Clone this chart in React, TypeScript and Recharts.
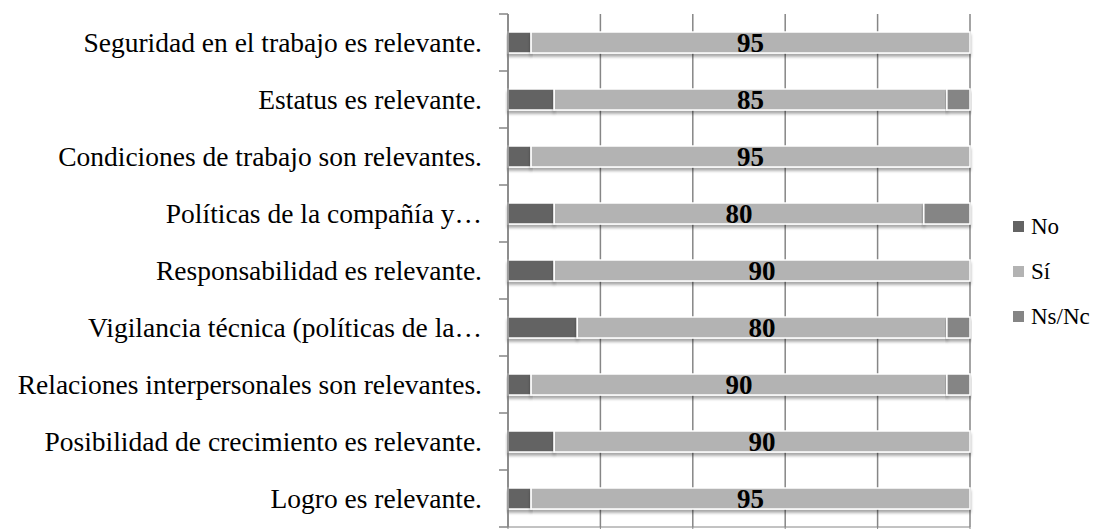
import React from "react";
import {
  BarChart,
  Bar,
  XAxis,
  YAxis,
  CartesianGrid,
  Legend,
  LabelList,
} from "recharts";

const categories = [
  "Seguridad en el trabajo es relevante.",
  "Estatus es relevante.",
  "Condiciones de trabajo son relevantes.",
  "Políticas de la compañía y…",
  "Responsabilidad es relevante.",
  "Vigilancia técnica (políticas de la…",
  "Relaciones interpersonales son relevantes.",
  "Posibilidad de crecimiento es relevante.",
  "Logro es relevante.",
];
const noValues = [5, 10, 5, 10, 10, 15, 5, 10, 5];
const siValues = [95, 85, 95, 80, 90, 80, 90, 90, 95];
const nsncValues = [0, 5, 0, 10, 0, 5, 5, 0, 0];
const xTicks = [0, 20, 40, 60, 80, 100];

const data = categories.map((name, i) => ({
  name,
  no: noValues[i],
  si: siValues[i],
  nsnc: nsncValues[i],
}));

const series = [
  { key: "no", label: "No", color: "#636363" },
  { key: "si", label: "Sí", color: "#b3b3b3" },
  { key: "nsnc", label: "Ns/Nc", color: "#858585" },
];

const FONT = "'Liberation Serif', 'Times New Roman', serif";
const AXIS = "#868686";
const BAND = 57;

const CatTick = (props: any) => {
  const { x, y, payload, index } = props;
  const last = index === categories.length - 1;
  return (
    <g>
      <line x1={x + 2} x2={x + 11} y1={y - BAND / 2} y2={y - BAND / 2} stroke={AXIS} strokeWidth={1.5} />
      {last && (
        <line x1={x + 2} x2={x + 11} y1={y + BAND / 2} y2={y + BAND / 2} stroke={AXIS} strokeWidth={1.5} />
      )}
      <text x={x - 15} y={y} dy={9} textAnchor="end" fill="#000" fontSize={27.5} fontFamily={FONT}>
        {payload.value}
      </text>
    </g>
  );
};

const ShadowBar = (props: any) => {
  const { x, y, width, height, fill } = props;
  if (!width || width <= 0) return <g />;
  return (
    <g>
      <defs>
        <filter id="barShadow" x="-5%" y="-30%" width="110%" height="180%">
          <feDropShadow dx={0} dy={3} stdDeviation={1.6} floodColor="#000" floodOpacity={0.35} />
        </filter>
      </defs>
      <rect x={x} y={y} width={width} height={height} fill={fill} stroke="#fff" strokeWidth={1.5} filter="url(#barShadow)" />
    </g>
  );
};

const LegendContent = () => (
  <div style={{ fontFamily: FONT, fontSize: 23, color: "#000" }}>
    {series.map((s) => (
      <div key={s.key} style={{ display: "flex", alignItems: "center", height: 45 }}>
        <span style={{ width: 11, height: 11, background: s.color, display: "inline-block", marginRight: 7 }} />
        <span>{s.label}</span>
      </div>
    ))}
  </div>
);

export default function App() {
  return (
    <div style={{ position: "absolute", left: 0, top: 0 }}>
      <BarChart
        width={1100}
        height={529}
        data={data}
        layout="vertical"
        margin={{ top: 14, right: 130, left: 0, bottom: 0 }}
        barSize={21}
      >
        <CartesianGrid horizontal={false} vertical stroke={AXIS} strokeWidth={1.5} />
        <XAxis
          type="number"
          domain={[0, 100]}
          ticks={xTicks}
          height={2}
          tickFormatter={() => ""}
          stroke={AXIS}
          tickSize={6}
        />
        <YAxis
          type="category"
          dataKey="name"
          width={508}
          tickLine={false}
          tickSize={9}
          tickMargin={2}
          stroke={AXIS}
          strokeWidth={1.5}
          tick={<CatTick />}
          interval={0}
        />
        <Legend
          layout="horizontal"
          align="center"
          verticalAlign="middle"
          content={<LegendContent />}
          wrapperStyle={{ left: 1013, top: 204, width: 90 }}
        />
        {series.map((s) => (
          <Bar
            key={s.key}
            dataKey={s.key}
            name={s.label}
            stackId="a"
            fill={s.color}
            shape={<ShadowBar />}
            isAnimationActive={false}
          >
            {s.key === "si" && (
              <LabelList
                dataKey="si"
                position="center"
                fill="#000"
                fontSize={27}
                fontWeight="bold"
                fontFamily={FONT}
              />
            )}
          </Bar>
        ))}
      </BarChart>
    </div>
  );
}
